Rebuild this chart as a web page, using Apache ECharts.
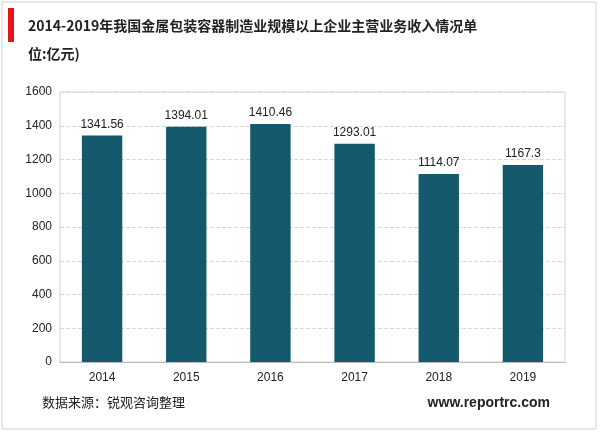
<!DOCTYPE html>
<html><head><meta charset="utf-8">
<script src="https://cdn.jsdelivr.net/npm/echarts@6/dist/echarts.min.js"></script>
<style>html,body{margin:0;padding:0;}#c{width:600px;height:433px;}</style>
</head><body><div id="c"></div>
<script>
var categories = ['2014','2015','2016','2017','2018','2019'];
var values = [1341.56,1394.01,1410.46,1293.01,1114.07,1167.3];
var labels = ['1341.56','1394.01','1410.46','1293.01','1114.07','1167.3'];
var chart = echarts.init(document.getElementById('c'));
chart.setOption({
  backgroundColor:'#fff',
  graphic:[
    {type:'rect',shape:{x:2,y:2,width:594,height:427},style:{fill:'none',stroke:'#d0d0d0',lineWidth:1}},
    {type:'rect',shape:{x:8,y:8,width:6,height:34},style:{fill:'#e8141c'}},
    {type:'text',left:28,top:12,style:{text:'2014-2019年我国金属包装容器制造业规模以上企业主营业务收入情况单\n位:亿元)',font:'bold 14px "Noto Sans CJK SC"',lineHeight:28,fill:'#222'}},
    {type:'text',left:42,top:396,style:{text:'数据来源：锐观咨询整理',font:'13px "Noto Sans CJK SC"',fill:'#222'}},
    {type:'text',right:50,top:396,style:{text:'www.reportrc.com',font:'bold 14px Arial, "Liberation Sans"',fill:'#222'}}
  ],
  grid:{left:60,right:35,top:92,bottom:71,show:true,borderColor:'#d0d0d0',borderWidth:1},
  xAxis:{type:'category',data:categories,axisTick:{show:false},
    axisLine:{lineStyle:{color:'#bbb'}},axisLabel:{color:'#222',fontSize:12,margin:10}},
  yAxis:{type:'value',min:0,max:1600,interval:200,
    axisLabel:{color:'#222',fontSize:12,formatter:function(v){return String(v);}},axisLine:{show:false},axisTick:{show:false},
    splitLine:{lineStyle:{type:'dashed',color:'#d8d8d8'}}},
  series:[{type:'bar',data:values,barWidth:'48%',itemStyle:{color:'#155a6c'},
    label:{show:true,position:'top',color:'#222',fontSize:12,formatter:function(p){return labels[p.dataIndex];}}}]
});
</script></body></html>
